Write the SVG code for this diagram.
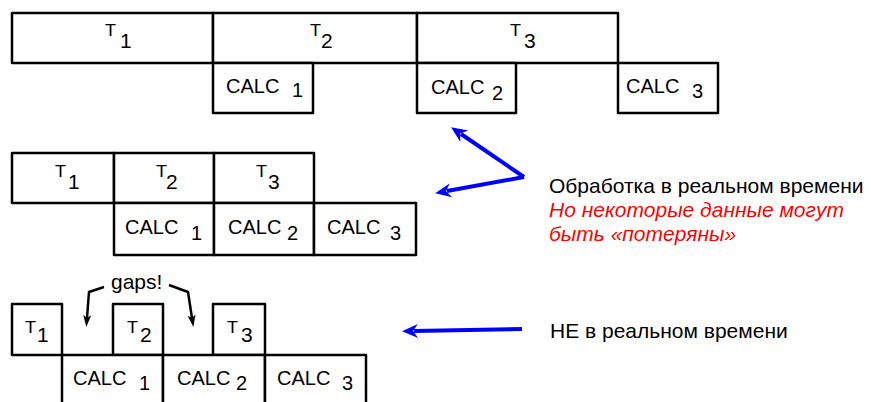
<svg xmlns="http://www.w3.org/2000/svg" width="871" height="402" viewBox="0 0 871 402">
<style>
.box{fill:#fff;stroke:#000;stroke-width:2.5;stroke-linejoin:round}
text{font-family:"Liberation Sans",Arial,sans-serif;fill:#000}
.t{font-size:16px}
.n{font-size:21px}
.c{font-size:20px}
.lbl{font-size:21px}
.red{fill:#ff0000;font-style:italic}
.blue{fill:none;stroke:#0000ff;stroke-width:4;stroke-linejoin:round}
.gap{fill:none;stroke:#000;stroke-width:2.5;stroke-linejoin:round}
</style>
<defs>
<marker id="ab" markerUnits="userSpaceOnUse" markerWidth="17" markerHeight="14" refX="4" refY="7" orient="auto" overflow="visible">
<path d="M0,0 L16,7 L0,14 L5,7 z" fill="#0000ff"/>
</marker>
<marker id="ak" markerUnits="userSpaceOnUse" markerWidth="12" markerHeight="8" refX="3" refY="4" orient="auto" overflow="visible">
<path d="M0,0 L12,4 L0,8 L3,4 z" fill="#000"/>
</marker>
</defs>

<g id="r1-T1"><rect class="box" x="12" y="13" width="201" height="50"/><text class="t" x="105" y="36" textLength="11" lengthAdjust="spacingAndGlyphs">T</text><text class="n" x="120" y="48">1</text></g>
<g id="r1-T2"><rect class="box" x="213" y="13" width="204" height="50"/><text class="t" x="310" y="36" textLength="11" lengthAdjust="spacingAndGlyphs">T</text><text class="n" x="321" y="48">2</text></g>
<g id="r1-T3"><rect class="box" x="417" y="13" width="201" height="50"/><text class="t" x="510" y="36" textLength="11" lengthAdjust="spacingAndGlyphs">T</text><text class="n" x="524" y="48">3</text></g>
<g id="r1-C1"><rect class="box" x="213" y="63" width="100" height="50"/><text class="c" x="226" y="93">CALC</text><text class="c" x="292" y="97">1</text></g>
<g id="r1-C2"><rect class="box" x="417" y="63" width="99" height="50"/><text class="c" x="431" y="94">CALC</text><text class="c" x="492" y="100">2</text></g>
<g id="r1-C3"><rect class="box" x="618" y="63" width="100" height="50"/><text class="c" x="626" y="93">CALC</text><text class="c" x="692" y="98">3</text></g>

<g id="r2-T1"><rect class="box" x="12" y="153" width="102" height="50"/><text class="t" x="55" y="177" textLength="11" lengthAdjust="spacingAndGlyphs">T</text><text class="n" x="68" y="189">1</text></g>
<g id="r2-T2"><rect class="box" x="114" y="153" width="100" height="50"/><text class="t" x="156" y="177" textLength="11" lengthAdjust="spacingAndGlyphs">T</text><text class="n" x="166" y="189">2</text></g>
<g id="r2-T3"><rect class="box" x="214" y="153" width="100" height="50"/><text class="t" x="256" y="177" textLength="11" lengthAdjust="spacingAndGlyphs">T</text><text class="n" x="268" y="189">3</text></g>
<g id="r2-C1"><rect class="box" x="114" y="203" width="100" height="52"/><text class="c" x="125" y="234">CALC</text><text class="c" x="191" y="240">1</text></g>
<g id="r2-C2"><rect class="box" x="214" y="203" width="100" height="52"/><text class="c" x="228" y="234">CALC</text><text class="c" x="287" y="240">2</text></g>
<g id="r2-C3"><rect class="box" x="314" y="203" width="102" height="52"/><text class="c" x="327" y="234">CALC</text><text class="c" x="390" y="240">3</text></g>

<g id="r3-T1"><rect class="box" x="12" y="304" width="50" height="51"/><text class="t" x="25" y="333" textLength="11" lengthAdjust="spacingAndGlyphs">T</text><text class="n" x="37" y="342">1</text></g>
<g id="r3-T2"><rect class="box" x="113" y="304" width="50" height="51"/><text class="t" x="127" y="333" textLength="11" lengthAdjust="spacingAndGlyphs">T</text><text class="n" x="140" y="342">2</text></g>
<g id="r3-T3"><rect class="box" x="213" y="304" width="52" height="51"/><text class="t" x="227" y="333" textLength="11" lengthAdjust="spacingAndGlyphs">T</text><text class="n" x="241" y="342">3</text></g>
<g id="r3-C1"><rect class="box" x="62" y="355" width="101" height="55"/><text class="c" x="73" y="385">CALC</text><text class="c" x="139" y="390">1</text></g>
<g id="r3-C2"><rect class="box" x="163" y="355" width="102" height="55"/><text class="c" x="177" y="385">CALC</text><text class="c" x="236" y="390">2</text></g>
<g id="r3-C3"><rect class="box" x="265" y="355" width="101" height="55"/><text class="c" x="277" y="385">CALC</text><text class="c" x="342" y="390">3</text></g>

<g id="gaps-label"><text x="111" y="289" font-size="21">gaps!</text></g>

<g id="labels">
<text class="lbl" x="549" y="193">Обработка в реальном времени</text>
<text class="lbl red" x="549" y="217">Но некоторые данные могут</text>
<text class="lbl red" x="549" y="241">быть «потеряны»</text>
<text class="lbl" x="550" y="338">НЕ в реальном времени</text>
</g>

<g id="connectors">
<path class="blue" d="M524,177 L461,134" marker-end="url(#ab)"/>
<path class="blue" d="M524,177 L447,191" marker-end="url(#ab)"/>
<path class="blue" d="M522,329 L414,331" marker-end="url(#ab)"/>
<path class="gap" d="M104,287 L89,292 L87,318" marker-end="url(#ak)"/>
<path class="gap" d="M169,285 L188,292 L192,318" marker-end="url(#ak)"/>
</g>
</svg>
